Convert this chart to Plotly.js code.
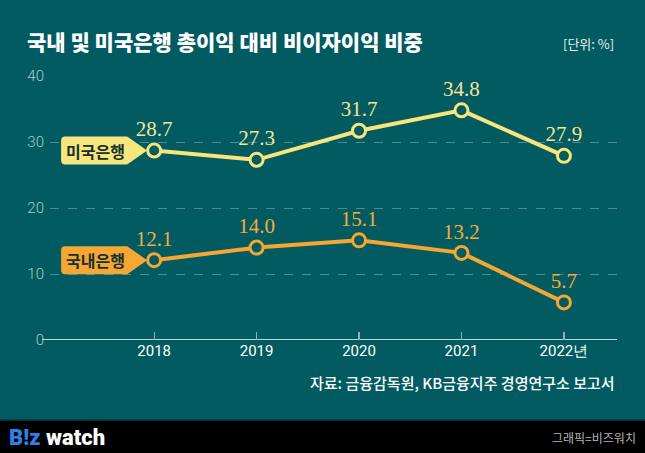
<!DOCTYPE html>
<html><head><meta charset="utf-8">
<script src="https://cdn.plot.ly/plotly-3.0.1.min.js"></script>
<style>html,body{margin:0;padding:0;background:#025b60;}#chart{width:645px;height:453px;}</style>
</head><body><div id="chart"></div>
<script>
const years = [2018, 2019, 2020, 2021, 2022];
const yearLabels = ['2018', '2019', '2020', '2021', '2022년'];
const usBanks = [28.7, 27.3, 31.7, 34.8, 27.9];
const krBanks = [12.1, 14.0, 15.1, 13.2, 5.7];
const usName = '미국은행';
const krName = '국내은행';
const yTicks = [0, 10, 20, 30, 40];

const BG = '#025b60';
const YEL = '#f8e67c';
const ORA = '#f6a733';
const W = 645, Hh = 453;
const L = 50, R = 28, T = 76, B = 113;
const PW = W - L - R, PH = Hh - T - B;
const px = p => (p - L) / PW;
const py = p => (Hh - B - p) / PH;

function series(vals, name, col, labCol) {
  return {
    x: years, y: vals, name: name, type: 'scatter', mode: 'lines+markers+text',
    line: {color: col, width: 4},
    marker: {size: 13, color: BG, line: {color: col, width: 3}},
    text: vals.map(v => v.toFixed(1)), textposition: 'top center',
    textfont: {family: 'Liberation Serif, DejaVu Serif, serif', size: 21, color: labCol},
    cliponaxis: false, hoverinfo: 'skip'
  };
}

const tagPath = 'M -89,14 L -27,14 L -7,0 L -27,-14 L -89,-14 Q -93,-14 -93,-10 L -93,10 Q -93,14 -89,14 Z';
function tag(val, col) {
  return {type: 'path', xref: 'x', yref: 'y', xsizemode: 'pixel', ysizemode: 'pixel',
    xanchor: years[0], yanchor: val, path: tagPath, fillcolor: col, line: {width: 0}, layer: 'above'};
}
function tagText(val, txt) {
  return {x: years[0], y: val, xref: 'x', yref: 'y', xshift: -59, yshift: 0, showarrow: false,
    text: txt, font: {family: 'Noto Sans CJK KR', size: 16, weight: 700, color: '#16302f'}};
}

const layout = {
  width: W, height: Hh, paper_bgcolor: BG, plot_bgcolor: BG,
  margin: {l: L, r: R, t: T, b: B}, showlegend: false,
  font: {family: 'Roboto, Noto Sans CJK KR, sans-serif'},
  xaxis: {range: [2018 - 104 / 102.3, 2022 + 53 / 102.3], tickvals: years, ticktext: yearLabels,
    showgrid: false, zeroline: false, showline: false, ticks: 'inside', ticklen: 8, tickwidth: 1.2,
    tickcolor: '#8fb3b3', tickfont: {family: 'Roboto', size: 15, color: '#ffffff'}, fixedrange: true},
  yaxis: {range: [0, 40], tickvals: yTicks, showgrid: true, gridcolor: '#4d8d8f', griddash: 'dash',
    gridwidth: 1, zeroline: false, showline: false, ticks: '', ticklabelstandoff: 5,
    tickfont: {family: 'Roboto', size: 15, weight: 300, color: '#a9c9c9'}, fixedrange: true},
  shapes: [
    {type: 'line', xref: 'paper', yref: 'y', x0: px(42), x1: 1, y0: 0, y1: 0, line: {color: '#ffffff', width: 1.5}, layer: 'below'},
    {type: 'rect', xref: 'paper', yref: 'paper', x0: px(0), x1: px(W), y0: py(420), y1: py(Hh + 2), fillcolor: '#000000', line: {width: 0}},
    {type: 'line', xref: 'paper', yref: 'paper', x0: px(0), x1: px(W), y0: py(420), y1: py(420), line: {color: '#0d3e40', width: 1.5}},
    tag(usBanks[0], YEL), tag(krBanks[0], ORA)
  ],
  annotations: [
    {xref: 'paper', yref: 'paper', x: px(25), y: py(41), xanchor: 'left', yanchor: 'middle', showarrow: false,
      text: '국내 및 미국은행 총이익 대비 비이자이익 비중', font: {family: 'Noto Sans CJK KR', size: 21, weight: 900, color: '#ffffff'}},
    {xref: 'paper', yref: 'paper', x: px(616), y: py(43), xanchor: 'right', yanchor: 'middle', showarrow: false,
      text: '[단위: %]', font: {family: 'Noto Sans CJK KR', size: 13, color: '#e6eeee'}},
    {xref: 'paper', yref: 'paper', x: px(617), y: py(382), xanchor: 'right', yanchor: 'middle', showarrow: false,
      text: '자료: 금융감독원, KB금융지주 경영연구소 보고서', font: {family: 'Noto Sans CJK KR', size: 15, weight: 500, color: '#ffffff'}},
    {xref: 'paper', yref: 'paper', x: px(7), y: py(437), xanchor: 'left', yanchor: 'middle', showarrow: false,
      text: '<span style="color:#2f7fe6">B!z</span> watch', font: {family: 'Roboto', size: 22, weight: 900, color: '#ffffff'}},
    {xref: 'paper', yref: 'paper', x: px(638), y: py(437), xanchor: 'right', yanchor: 'middle', showarrow: false,
      text: '그래픽=비즈워치', font: {family: 'Noto Sans CJK KR', size: 12, color: '#b5b5b5'}},
    tagText(usBanks[0], usName), tagText(krBanks[0], krName)
  ]
};

Plotly.newPlot('chart', [series(usBanks, usName, YEL, '#f5e597'), series(krBanks, krName, ORA, '#f7ab3c')], layout, {displayModeBar: false, staticPlot: true});
</script></body></html>
